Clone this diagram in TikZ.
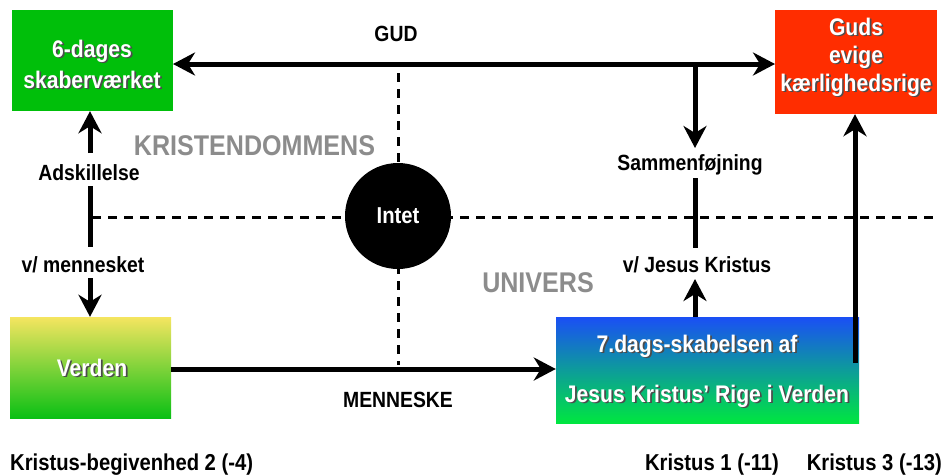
\documentclass[tikz,border=0pt]{standalone}
\usepackage{fontspec}
\setmainfont{Liberation Sans}[FakeStretch=0.88]
\usetikzlibrary{arrows.meta,calc}
\definecolor{boxgreen}{HTML}{00BF0A}
\definecolor{boxred}{HTML}{FF2D00}
\definecolor{vtop}{HTML}{F5E560}
\definecolor{vbot}{HTML}{0AC014}
\definecolor{jtop}{HTML}{1A4FF5}
\definecolor{jmid}{HTML}{0D9C9A}
\definecolor{jbot}{HTML}{00E640}
\definecolor{biggray}{HTML}{8C8C8C}
\newcommand\shd[1]{\leavevmode\rlap{\kern1.7pt\raisebox{-1.7pt}{\textcolor{black!70}{#1}}}#1}
\tikzset{
  lbl/.style={font=\fontsize{22}{26}\selectfont\bfseries, anchor=base, inner sep=0pt},
  bottomlbl/.style={font=\fontsize{23}{26}\selectfont\bfseries, anchor=base, inner sep=0pt},
  biglbl/.style={font=\fontsize{28.5}{32}\selectfont\bfseries, text=biggray, anchor=base, inner sep=0pt},
  btxt/.style={font=\fontsize{24}{28}\selectfont\bfseries, text=white, anchor=base, inner sep=0pt},
  boxnode/.style={draw=none, inner sep=0pt},
  bigtip/.tip={Stealth[length=22pt,width=23pt,inset=7pt]},
  tharrow/.style={line width=5pt, -bigtip},
  thline/.style={line width=5pt},
  dashline/.style={line width=3pt, dash pattern=on 9pt off 7pt},
}
\begin{document}
\begin{tikzpicture}[x=1pt,y=-1pt]
\useasboundingbox (0,0) rectangle (943,475);

% boxes
\node[boxnode, fill=boxgreen, minimum width=161pt, minimum height=101pt] (tl) at (92.5,60.5) {};
\node[boxnode, fill=boxred, minimum width=162pt, minimum height=104pt] (tr) at (856,62) {};
\node[boxnode, top color=vtop, bottom color=vbot, minimum width=161pt, minimum height=101pt] (bl) at (90.5,367.5) {};
\node[boxnode, top color=jtop, bottom color=jbot, middle color=jmid, minimum width=303pt, minimum height=106pt] (br) at (707.5,370) {};

% dashed cross
\coordinate (dl) at (92,217);
\coordinate (dr) at (940,217);
\coordinate (dt) at (398,73);
\coordinate (db) at (398,365);
\draw[dashline] (dl) -- (dr);
\draw[dashline] (dt) -- (db);

% circle
\node[circle, fill=black, minimum size=106pt, inner sep=0pt] (intet) at (398,216) {};
\node[lbl, font=\fontsize{23}{26}\selectfont\bfseries, text=white] (intettxt) at (398,223) {Intet};

% box texts
\node[btxt] (t1a) at (92,57) {\shd{6-dages}};
\node[btxt] (t1b) at (92,88) {\shd{skaberværket}};
\node[btxt] (t2a) at (856,35) {\shd{Guds}};
\node[btxt] (t2b) at (856,63) {\shd{evige}};
\node[btxt] (t2c) at (856,91) {\shd{kærlighedsrige}};
\node[btxt] (t3) at (92,376) {\shd{Verden}};
\node[btxt] (t4a) at (697,352) {\shd{7.dags-skabelsen af}};
\node[btxt] (t4b) at (707,402) {\shd{Jesus Kristus’ Rige i Verden}};

% labels
\node[lbl] (gud) at (396,41) {GUD};
\node[lbl] (menn) at (398,407) {MENNESKE};
\node[lbl] (adsk) at (89,180) {Adskillelse};
\node[lbl] (vmen) at (83,272) {v/ mennesket};
\node[lbl] (samm) at (690,170) {Sammenføjning};
\node[lbl] (vjk) at (697,272) {v/ Jesus Kristus};
\node[biglbl] (krist) at (254.5,155) {KRISTENDOMMENS};
\node[biglbl] (univ) at (538,292) {UNIVERS};
\node[bottomlbl, anchor=base west] (k2) at (10,470) {Kristus-begivenhed 2 (-4)};
\node[bottomlbl] (k1) at (712,470) {Kristus 1 (-11)};
\node[bottomlbl, anchor=base east] (k3) at (942,470) {Kristus 3 (-13)};

% top double arrow
\coordinate (gl) at (173,64);
\coordinate (gr) at (775,64);
\draw[line width=5pt, bigtip-bigtip] (gl) -- (gr);

% right side: down to Sammenfoejning, up from box
\coordinate (j1) at (695,64);
\coordinate (j2) at (695,148);
\coordinate (j3) at (695,178);
\coordinate (j4) at (695,248);
\coordinate (j5) at (695,279);
\coordinate (j6) at (695,317);
\draw[tharrow] (j1) -- (j2);
\draw[thline] (j3) -- (j4);
\draw[tharrow] (j6) -- (j5);

% far right up to red box
\coordinate (rs) at (855,363);
\draw[tharrow] (rs) -- (rs |- tr.south);

% left column
\coordinate (a1) at (90,153);
\coordinate (a2) at (90,186);
\coordinate (a3) at (90,247);
\coordinate (a4) at (90,278);
\draw[tharrow] (a1) -- (a1 |- tl.south);
\draw[thline] (a2) -- (a3);
\draw[tharrow] (a4) -- (a4 |- bl.north);

% bottom arrow
\coordinate (ml) at (171,369);
\draw[tharrow] (ml) -- (ml -| br.west);
\end{tikzpicture}
\end{document}
